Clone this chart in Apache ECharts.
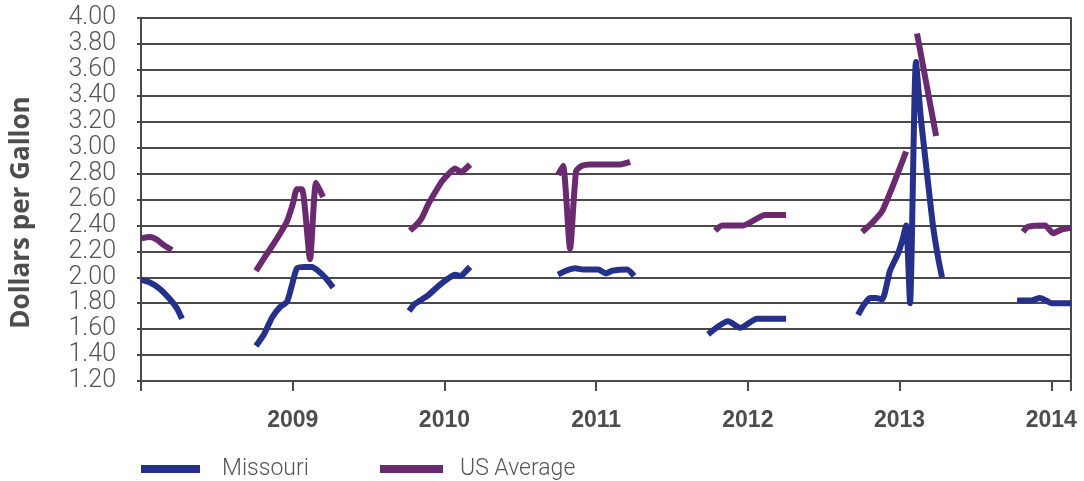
<!DOCTYPE html>
<html>
<head>
<meta charset="utf-8">
<script src="https://cdn.jsdelivr.net/npm/echarts@6/dist/echarts.min.js"></script>
<style>
  html, body { margin: 0; padding: 0; background: #ffffff; }
  #chart { width: 1084px; height: 481px; }
</style>
</head>
<body>
<div id="chart"></div>
<script>
// Gasoline price, dollars per gallon; x is the date as a decimal year.
// Each inner array is one stretch of readings; stretches are drawn apart.
const missouri = [
  [[2008.000, 1.98], [2008.059, 1.96], [2008.125, 1.91], [2008.191, 1.83], [2008.237, 1.76], [2008.270, 1.68]],
  [[2008.758, 1.47], [2008.811, 1.56], [2008.864, 1.69], [2008.916, 1.77], [2008.962, 1.81], [2008.995, 1.94],
   [2009.028, 2.07], [2009.081, 2.08], [2009.127, 2.08], [2009.167, 2.05], [2009.220, 1.99], [2009.266, 1.92]],
  [[2009.767, 1.74], [2009.800, 1.79], [2009.839, 1.82], [2009.892, 1.86], [2009.958, 1.93], [2010.024, 1.99],
   [2010.070, 2.02], [2010.109, 2.01], [2010.136, 2.04], [2010.169, 2.08]],
  [[2010.749, 2.02], [2010.801, 2.05], [2010.861, 2.07], [2010.914, 2.06], [2011.013, 2.06], [2011.065, 2.03],
   [2011.105, 2.05], [2011.204, 2.06], [2011.250, 2.01]],
  [[2011.738, 1.56], [2011.870, 1.66], [2011.949, 1.61], [2012.061, 1.68], [2012.252, 1.68]],
  [[2012.726, 1.71], [2012.766, 1.79], [2012.805, 1.84], [2012.845, 1.84], [2012.885, 1.83], [2012.937, 2.05],
   [2012.989, 2.18], [2013.022, 2.30], [2013.043, 2.40], [2013.069, 1.80], [2013.108, 3.66], [2013.141, 3.22],
   [2013.181, 2.80], [2013.220, 2.40], [2013.254, 2.15], [2013.280, 2.00]],
  [[2013.775, 1.82], [2013.860, 1.82], [2013.926, 1.84], [2013.966, 1.82], [2014.005, 1.80], [2014.130, 1.80]]
];

const usAverage = [
  [[2008.000, 2.30], [2008.059, 2.31], [2008.105, 2.29], [2008.148, 2.25], [2008.204, 2.21]],
  [[2008.758, 2.05], [2008.824, 2.17], [2008.897, 2.30], [2008.962, 2.43], [2009.002, 2.57], [2009.028, 2.68],
   [2009.061, 2.68], [2009.114, 2.14], [2009.154, 2.73], [2009.200, 2.62]],
  [[2009.773, 2.36], [2009.819, 2.41], [2009.852, 2.46], [2009.892, 2.56], [2009.931, 2.64], [2009.984, 2.74],
   [2010.037, 2.81], [2010.070, 2.84], [2010.109, 2.81], [2010.142, 2.84], [2010.169, 2.87]],
  [[2010.749, 2.79], [2010.782, 2.86], [2010.828, 2.22], [2010.868, 2.82], [2010.907, 2.86], [2010.960, 2.87],
   [2011.158, 2.87], [2011.224, 2.89]],
  [[2011.784, 2.36], [2011.830, 2.40], [2011.968, 2.40], [2012.113, 2.48], [2012.252, 2.48]],
  [[2012.753, 2.35], [2012.819, 2.42], [2012.885, 2.51], [2012.964, 2.73], [2013.043, 2.97]],
  [[2013.115, 3.88], [2013.241, 3.09]],
  [[2013.814, 2.35], [2013.847, 2.39], [2013.959, 2.40], [2014.012, 2.34], [2014.071, 2.37], [2014.130, 2.38]]
];

const yearTicks = [2008, 2009, 2010, 2011, 2012, 2013, 2014];
const yearLabels = [2009, 2010, 2011, 2012, 2013, 2014];
const xMin = 2008;
const xMax = 2014.13;

const NAVY = '#25308a';
const PURPLE = '#6a2a70';
const GRID = '#4a4a4a';
const TEXT = '#555555';

// join the stretches into one list, with an empty point between them
function withGaps(segments) {
  const out = [];
  segments.forEach((seg, i) => {
    if (i > 0) out.push([(segments[i - 1][segments[i - 1].length - 1][0] + seg[0][0]) / 2, null]);
    seg.forEach(p => out.push(p));
  });
  return out;
}

const lightFont = { fontFamily: 'Roboto', fontWeight: 300, color: TEXT };

function lineSeries(name, segments, color) {
  return {
    name: name,
    type: 'line',
    data: withGaps(segments),
    showSymbol: false,
    symbol: 'none',
    smooth: 0.2,
    connectNulls: false,
    color: color,
    lineStyle: { width: 6, color: color, join: 'miter', miterLimit: 5, cap: 'butt' }
  };
}

function legendFor(name, left, iconWidth, gap) {
  return {
    data: [name],
    left: left, top: 453,
    padding: 0,
    icon: 'rect', itemWidth: iconWidth, itemHeight: 8,
    textStyle: Object.assign({ fontSize: 23, lineHeight: 26, padding: [0, 0, 6, gap] }, lightFont)
  };
}

const chart = echarts.init(document.getElementById('chart'), null, { renderer: 'canvas' });
chart.setOption({
  animation: false,
  backgroundColor: '#ffffff',
  grid: { left: 141, right: 13, top: 18, bottom: 100, containLabel: false },
  xAxis: {
    type: 'value',
    min: xMin,
    max: xMax,
    interval: 1,
    axisLine: { show: true, lineStyle: { color: GRID, width: 2 } },
    axisTick: {
      show: true, length: 10, inside: false,
      customValues: yearTicks.concat([xMax]),
      lineStyle: { color: GRID, width: 2 }
    },
    axisLabel: {
      customValues: yearLabels,
      margin: 28,
      formatter: v => (Math.round(v) >= 2009 ? String(Math.round(v)) : ''),
      fontFamily: '"Liberation Sans", Arial, sans-serif',
      fontWeight: 'bold',
      fontSize: 23,
      color: '#4d4d4d'
    },
    splitLine: { show: false }
  },
  yAxis: [
    {
      type: 'value',
      min: 1.2,
      max: 4.0,
      interval: 0.2,
      name: 'Dollars per Gallon',
      nameLocation: 'middle',
      nameRotate: 90,
      nameGap: 106,
      nameTextStyle: {
        fontFamily: '"Open Sans", sans-serif',
        fontWeight: 'bold',
        fontSize: 26,
        color: '#4d4d4d',
        padding: [0, 26, 0, 0]
      },
      axisLine: { show: true, lineStyle: { color: GRID, width: 2 } },
      axisTick: { show: true, length: 4, lineStyle: { color: GRID, width: 2 } },
      axisLabel: Object.assign({ margin: 25, fontSize: 25, formatter: v => v.toFixed(2) }, lightFont),
      splitLine: { show: true, lineStyle: { color: GRID, width: 2 } }
    },
    {
      type: 'value',
      position: 'right',
      min: 1.2,
      max: 4.0,
      interval: 0.2,
      axisLine: { show: true, lineStyle: { color: GRID, width: 2 } },
      axisTick: { show: false },
      axisLabel: { show: false },
      splitLine: { show: false }
    }
  ],
  legend: [
    legendFor('Missouri', 141, 59, 17),
    legendFor('US Average', 380, 63, 12)
  ],
  series: [
    lineSeries('Missouri', missouri, NAVY),
    lineSeries('US Average', usAverage, PURPLE)
  ]
});
</script>
</body>
</html>
